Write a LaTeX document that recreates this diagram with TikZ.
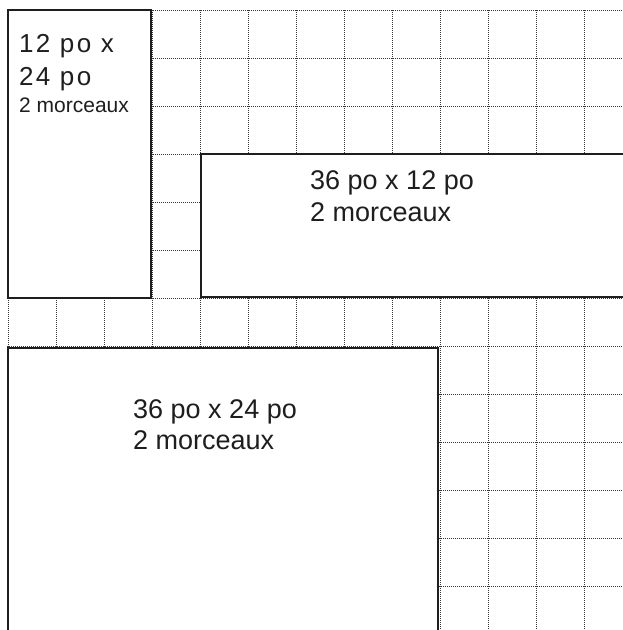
\documentclass[tikz,border=0pt]{standalone}
\usepackage{fontspec}
\setmainfont{Liberation Sans}
\definecolor{ink}{HTML}{1E1E1E}
\definecolor{gridc}{HTML}{333333}
\tikzset{
  gridline/.style={draw=gridc, line width=1pt, dash pattern=on 1pt off 1pt},
  piece/.style={draw=ink, line width=2.4pt, fill=white},
  lbl/.style={anchor=base west, inner sep=0pt, text=ink, font=\fontsize{27}{32}\selectfont},
  lblsp/.style={anchor=base west, inner sep=0pt, text=ink, font=\fontsize{26}{30}\selectfont\addfontfeature{LetterSpace=9}},
  lblsm/.style={anchor=base west, inner sep=0pt, text=ink, font=\fontsize{21}{26}\selectfont}
}
\begin{document}
\begin{tikzpicture}[x=1pt,y=-1pt]
\useasboundingbox (0,0) rectangle (623,630);
\clip (0,0) rectangle (623,630);
% grid
\foreach \k in {0,...,12}{
  \draw[gridline] ({8+48*\k},10) -- ({8+48*\k},632);
  \draw[gridline] (7,{10+48*\k}) -- (625,{10+48*\k});
}
% pieces
\draw[piece] (8,10) rectangle (151,298);
\draw[piece] (201,154) rectangle (640,297);
\draw[piece] (8,348) rectangle (438,650);
% labels
\node[lblsp] (a1) at (19,52) {12 po x};
\node[lblsp] (a2) at (19,85) {24 po};
\node[lblsm] (a3) at (19,112) {2 morceaux};
\node[lbl] (b1) at (310,189) {36 po x 12 po};
\node[lbl] (b2) at (310,221) {2 morceaux};
\node[lbl] (c1) at (133,418) {36 po x 24 po};
\node[lbl] (c2) at (133,449) {2 morceaux};
\end{tikzpicture}
\end{document}
